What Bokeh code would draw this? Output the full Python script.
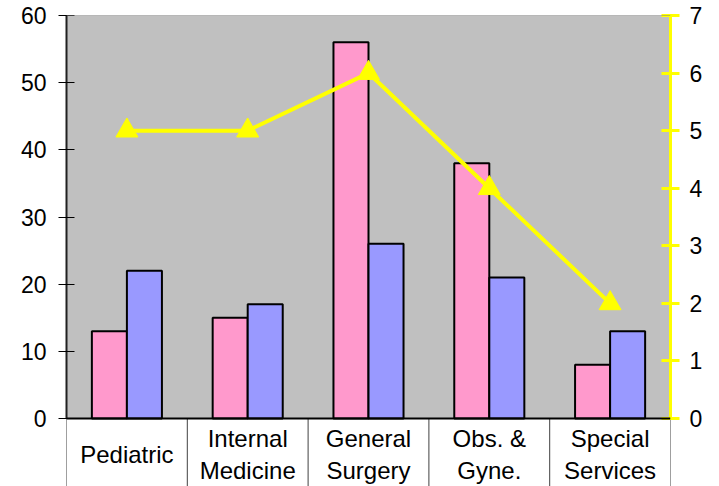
from bokeh.plotting import figure
from bokeh.models import Range1d, LinearAxis, FixedTicker, Span
from bokeh.core.properties import value
from bokeh.embed import file_html
from bokeh.resources import INLINE

categories = ["Pediatric", "Internal\nMedicine", "General\nSurgery", "Obs. &\nGyne.", "Special\nServices"]
series_pink = [13, 15, 56, 38, 8]
series_blue = [22, 17, 26, 21, 13]
series_line = [5, 5, 6, 4, 2]
left_ticks = [0, 10, 20, 30, 40, 50, 60]
right_ticks = [0, 1, 2, 3, 4, 5, 6, 7]

FONT = "Liberation Sans"
n = len(categories)
centers = [i + 0.5 for i in range(n)]
bounds_x = list(range(n + 1))
bar_w = 0.29
L_MAX, R_MAX = left_ticks[-1], right_ticks[-1]
plot_px = 403   # px from value 0 to top of value area
below_px = 68   # px of category band below value 0
l_min = -below_px * L_MAX / plot_px
r_min = -below_px * R_MAX / plot_px

p = figure(width=719, height=486, output_backend="svg", toolbar_location=None,
           x_range=Range1d(0, n), y_range=Range1d(l_min, L_MAX),
           x_axis_type=None,
           min_border_left=66, min_border_right=49, min_border_top=15, min_border_bottom=0,
           background_fill_color="white", border_fill_color="white",
           outline_line_color=None)
p.grid.visible = False
p.extra_y_ranges = {"right": Range1d(r_min, R_MAX)}

# gray value area
p.quad(left=[0], right=[n], bottom=[0], top=[L_MAX], fill_color="#C0C0C0", line_color=None)
p.add_layout(Span(location=L_MAX, dimension="width", line_color="#808080", line_width=1))

# category separators
p.segment(x0=bounds_x, y0=[0] * len(bounds_x), x1=bounds_x, y1=[l_min] * len(bounds_x),
          line_color="#404040", line_width=1)

# left axis
ya = p.yaxis[0]
ya.bounds = (0, L_MAX)
ya.ticker = FixedTicker(ticks=left_ticks)
ya.major_tick_in = 8
ya.major_tick_out = 8
ya.major_tick_line_color = "black"
ya.major_tick_line_width = 1
ya.minor_tick_line_color = None
ya.axis_line_color = "#202020"
ya.axis_line_width = 2
ya.major_label_text_font = FONT
ya.major_label_text_font_size = "23px"
ya.major_label_text_color = "black"
ya.major_label_standoff = 12

# right axis
ra = LinearAxis(y_range_name="right", ticker=FixedTicker(ticks=right_ticks), bounds=(0, R_MAX))
ra.axis_line_color = "#FFFF00"
ra.axis_line_width = 3
ra.major_tick_line_color = "#FFFF00"
ra.major_tick_line_width = 3
ra.major_tick_in = 9
ra.major_tick_out = 9
ra.minor_tick_line_color = None
ra.major_label_text_font = FONT
ra.major_label_text_font_size = "23px"
ra.major_label_text_color = "black"
ra.major_label_standoff = 10
p.add_layout(ra, "right")

# bars
p.vbar(x=[c - bar_w / 2 for c in centers], top=series_pink, width=bar_w,
       fill_color="#FF99CC", line_color="black", line_width=2)
p.vbar(x=[c + bar_w / 2 for c in centers], top=series_blue, width=bar_w,
       fill_color="#9999FF", line_color="black", line_width=2)

# category axis line
p.add_layout(Span(location=0, dimension="width", line_color="black", line_width=2))

# line
p.line(centers, series_line, y_range_name="right", line_color="#FFFF00", line_width=4)
p.scatter(centers, series_line, y_range_name="right", marker="triangle", size=22,
          fill_color="#FFFF00", line_color="#FFFF00")

# category labels
p.text(x=centers, y=[-36 * L_MAX / plot_px] * n, text=categories,
       text_align="center", text_baseline="middle", text_font=value(FONT),
       text_font_size="24px", text_line_height=1.2, text_color="black")

open("out.html", "w").write(file_html(p, INLINE))
